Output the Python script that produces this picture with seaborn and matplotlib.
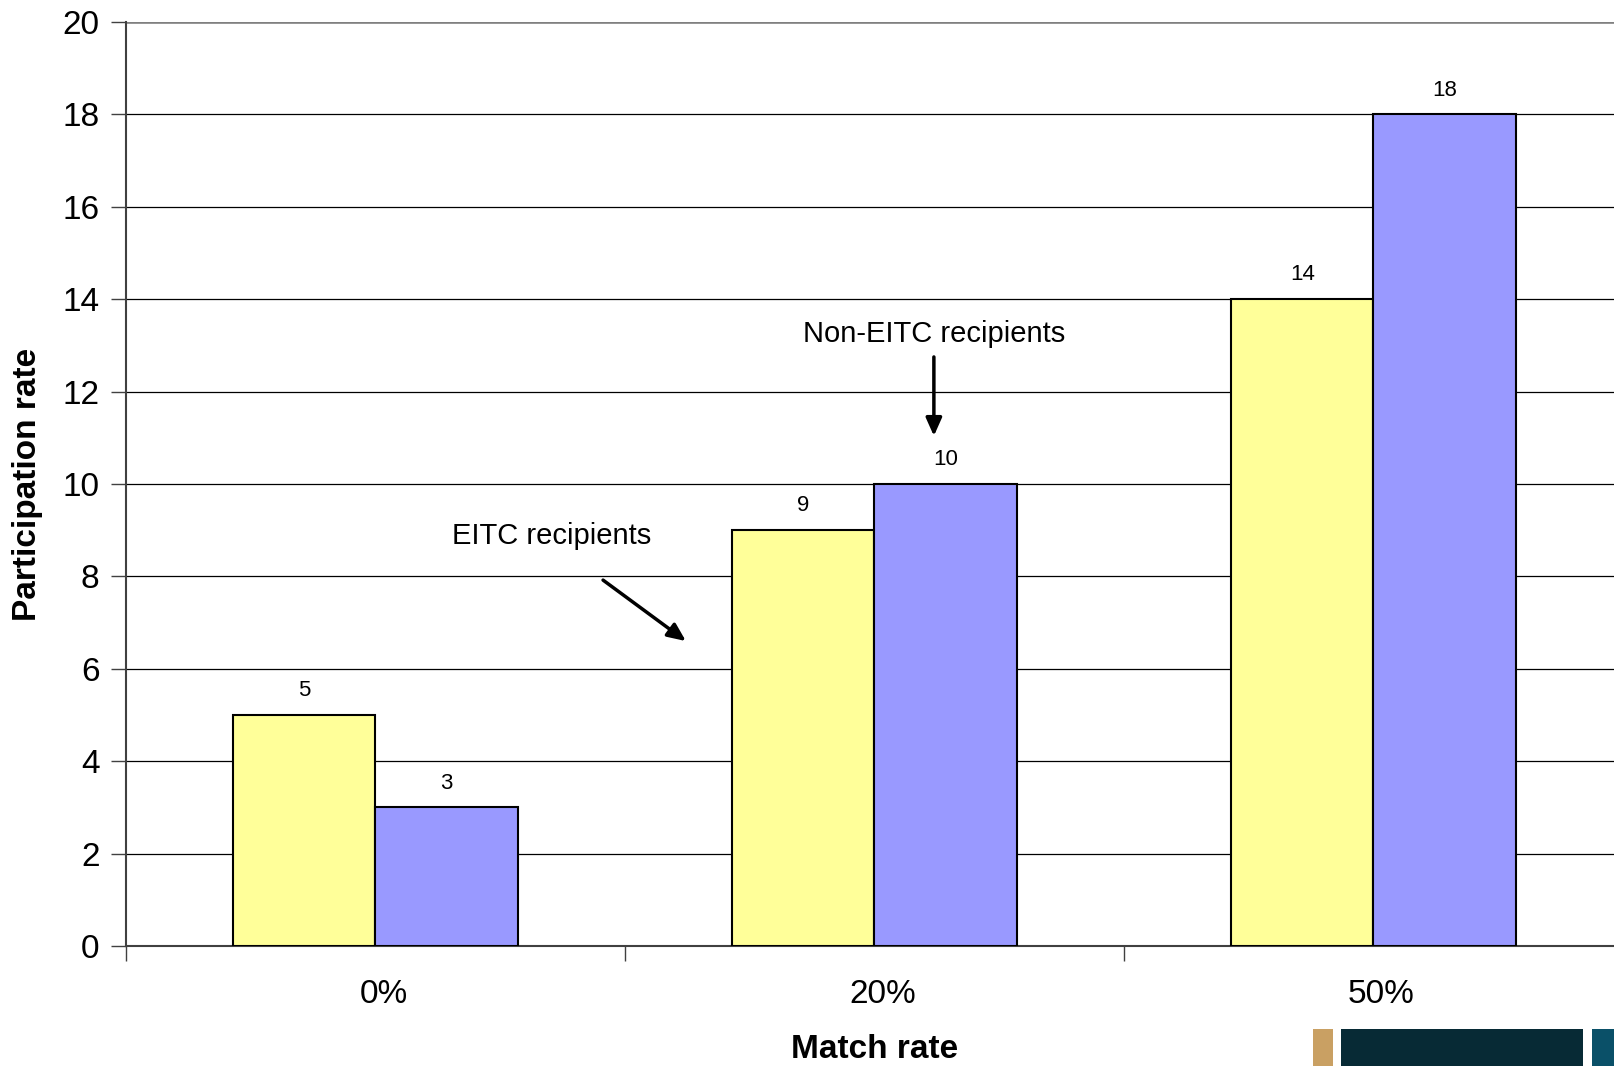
import matplotlib
matplotlib.use("Agg")
import matplotlib.pyplot as plt
import matplotlib.patches as mpatches
import matplotlib.transforms as mtransforms
import seaborn as sns
import pandas as pd

# Participation rates by match rate and EITC status
match_rates = ["0%", "20%", "50%"]
eitc_rates = [5, 9, 14]
non_eitc_rates = [3, 10, 18]
groups = ["EITC recipients", "Non-EITC recipients"]
bar_colors = ["#FFFF99", "#9999FF"]

df = pd.DataFrame({
    "Match rate": match_rates * 2,
    "Participation rate": eitc_rates + non_eitc_rates,
    "Group": [groups[0]] * len(match_rates) + [groups[1]] * len(match_rates),
})

sns.set_theme(style="white")
plt.rcParams["font.family"] = ["Liberation Sans", "DejaVu Sans"]
plt.rcParams["text.color"] = "black"
plt.rcParams["axes.labelcolor"] = "black"
plt.rcParams["xtick.color"] = "black"
plt.rcParams["ytick.color"] = "black"

fig = plt.figure(figsize=(16.15, 10.66), dpi=100)
ax = fig.add_axes([126 / 1615, 1 - 946 / 1066, 1497 / 1615, 924 / 1066])

sns.barplot(
    data=df, x="Match rate", y="Participation rate", hue="Group",
    palette=bar_colors, width=0.57, edgecolor="black", linewidth=1.5,
    saturation=1, legend=False, ax=ax, zorder=3,
)

ax.set_xlim(-0.5, 2.5)
ax.set_ylim(0, 20)
ax.set_yticks(range(0, 21, 2))
ax.yaxis.grid(True, color="black", linewidth=0.9, zorder=0)
ax.set_axisbelow(True)

# value labels above each bar
for container in ax.containers:
    ax.bar_label(container, fmt="%g", padding=10, fontsize=16, color="black")

# spines
for side in ["top", "right"]:
    ax.spines[side].set_visible(False)
ax.spines["left"].set_color("#404040")
ax.spines["left"].set_linewidth(1.5)
ax.spines["bottom"].set_color("#404040")
ax.spines["bottom"].set_linewidth(1.5)
ax.axhline(20, color="#808080", linewidth=1.8, zorder=1)

# ticks: labels at category centres, tick marks at category boundaries
ax.tick_params(axis="x", which="major", length=0, pad=24, labelsize=24,
               labelcolor="black")
ax.set_xticks([-0.5, 0.5, 1.5, 2.5], minor=True)
ax.tick_params(axis="x", which="minor", bottom=True, length=11,
               width=1, color="#404040", direction="out")
ax.tick_params(axis="y", left=True, length=11, width=1, color="#404040",
               direction="out", pad=8, labelsize=24, labelcolor="black")
shift = mtransforms.ScaledTranslation(8 / 100, 0, fig.dpi_scale_trans)
for lbl in ax.get_xticklabels():
    lbl.set_transform(lbl.get_transform() + shift)

ax.set_xlabel("Match rate", fontsize=24, fontweight="bold", labelpad=17,
              color="black")
ax.set_ylabel("Participation rate", fontsize=24, fontweight="bold",
              labelpad=14, color="black")

# annotations with arrows
ax.text(0.352, 8.87, "EITC recipients", fontsize=21, ha="center", va="center")
ax.annotate("", xy=(0.622, 6.60), xytext=(0.456, 7.92),
            arrowprops=dict(arrowstyle="-|>,head_length=0.9,head_width=0.4",
                            color="black", lw=2.5, shrinkA=0, shrinkB=0))
ax.text(1.12, 13.25, "Non-EITC recipients", fontsize=21, ha="center", va="center")
ax.annotate("", xy=(1.119, 11.04), xytext=(1.119, 12.75),
            arrowprops=dict(arrowstyle="-|>,head_length=0.9,head_width=0.4",
                            color="black", lw=2.5, shrinkA=0, shrinkB=0))

# corner logo strip
W, H = 1615, 1066
for x0, x1, col in [(1313, 1333, "#C9A063"), (1341, 1583, "#072A35"),
                    (1592, 1615, "#0A5068")]:
    fig.patches.append(mpatches.Rectangle(
        (x0 / W, 0), (x1 - x0) / W, (H - 1029) / H,
        transform=fig.transFigure, facecolor=col, edgecolor="none",
        zorder=5))

fig.savefig("out.png", dpi=100)
